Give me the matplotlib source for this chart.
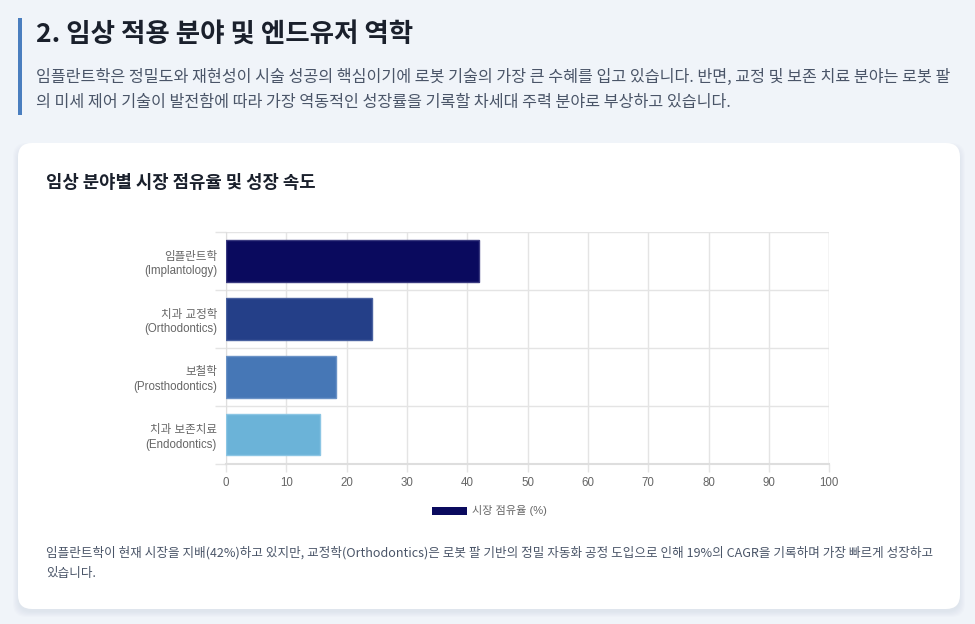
import numpy as np
import matplotlib.pyplot as plt
from matplotlib.patches import FancyBboxPatch, Rectangle

plt.rcParams['font.family'] = ['Noto Sans CJK KR', 'DejaVu Sans']
chart_font = ['Liberation Sans', 'Noto Sans CJK KR']

# data
fields = ['임플란트학\n(Implantology)', '치과 교정학\n(Orthodontics)',
          '보철학\n(Prosthodontics)', '치과 보존치료\n(Endodontics)']
share = [42, 24.2, 18.3, 15.5]
bar_colors = ['#0a0a5e', '#243f88', '#4677b6', '#6bb3d8']
edge_colors = ['#3a3a80', '#4a62a0', '#6a92c6', '#8cc6e4']
x_ticks = [0, 10, 20, 30, 40, 50, 60, 70, 80, 90, 100]
legend_label = '시장 점유율 (%)'

title = '2. 임상 적용 분야 및 엔드유저 역학'
intro = ['임플란트학은 정밀도와 재현성이 시술 성공의 핵심이기에 로봇 기술의 가장 큰 수혜를 입고 있습니다. 반면, 교정 및 보존 치료 분야는 로봇 팔',
         '의 미세 제어 기술이 발전함에 따라 가장 역동적인 성장률을 기록할 차세대 주력 분야로 부상하고 있습니다.']
card_title = '임상 분야별 시장 점유율 및 성장 속도'
note = ['임플란트학이 현재 시장을 지배(42%)하고 있지만, 교정학(Orthodontics)은 로봇 팔 기반의 정밀 자동화 공정 도입으로 인해 19%의 CAGR을 기록하며 가장 빠르게 성장하고',
        '있습니다.']

W, H = 975, 624
fig = plt.figure(figsize=(W / 100, H / 100), dpi=100)
fig.patch.set_facecolor('#f0f4f9')

# page layer in pixel coords
bg = fig.add_axes([0, 0, 1, 1])
bg.set_xlim(0, W)
bg.set_ylim(H, 0)
bg.axis('off')

bg.add_patch(Rectangle((18, 18), 3.5, 97, color='#4a7ebf', lw=0))
bg.text(36, 34, title, fontsize=19.1, fontweight='bold', color='#1a202c', va='center')
bg.text(36, 77, intro[0], fontsize=11.65, color='#4a5568', va='center')
bg.text(36, 103, intro[1], fontsize=11.65, color='#4a5568', va='center')

# card with soft shadow
for i in range(6):
    bg.add_patch(FancyBboxPatch((18 - i, 145 - i + 3), 942 + 2 * i, 464 + 2 * i,
                                boxstyle='round,pad=0,rounding_size=14',
                                fc='#aab4c4', ec='none', alpha=0.035))
bg.add_patch(FancyBboxPatch((18, 143), 942, 466, boxstyle='round,pad=0,rounding_size=14',
                            fc='white', ec='none'))
bg.text(46, 183, card_title, fontsize=12.8, fontweight='bold', color='#1a202c', va='center')
bg.text(46, 553, note[0], fontsize=9.07, color='#4a5568', va='center')
bg.text(46, 573, note[1], fontsize=9.07, color='#4a5568', va='center')

# chart
ax = fig.add_axes([226 / W, 1 - 463.5 / H, (829.3 - 226) / W, (463.5 - 232.3) / H])
y = np.arange(len(fields))
bars = ax.barh(y, share, height=0.72, color=bar_colors, edgecolor=edge_colors,
               linewidth=1, label=legend_label, zorder=3)
ax.set_xlim(0, 100)
ax.set_ylim(len(fields) - 0.5, -0.5)
ax.set_xticks(x_ticks)
ax.set_xticklabels([str(v) for v in x_ticks], family=chart_font)
ax.set_yticks(y)
ax.set_yticklabels(fields, ha='right', linespacing=1.3, family=chart_font)
ax.set_yticks(np.arange(len(fields) + 1) - 0.5, minor=True)
ax.tick_params(axis='y', which='major', length=0, pad=6.5, labelsize=8.3, labelcolor='#666666')
ax.tick_params(axis='y', which='minor', length=8, color='#e4e4e4', width=1)
ax.tick_params(axis='x', length=6, color='#e4e4e4', width=1, pad=4, labelsize=8.3,
               labelcolor='#666666')
ax.grid(axis='x', color='#e4e4e4', lw=1, zorder=0)
ax.grid(axis='y', which='minor', color='#e4e4e4', lw=1, zorder=0)
for s in ['top', 'right']:
    ax.spines[s].set_visible(False)
ax.spines['left'].set_color('#dedede')
ax.spines['bottom'].set_color('#dedede')
ax.spines['bottom'].set_linewidth(1.5)
ax.set_facecolor('white')
ax.axvline(100, color='#e4e4e4', lw=1, zorder=0)

ax_h = (463.5 - 232.3) / H
leg = ax.legend(handles=[bars[0]], labels=[legend_label], loc='center',
                bbox_to_anchor=((489 - 226) / (829.3 - 226), ((463.5 - 511) / H) / ax_h),
                frameon=False, handlelength=3.2, handleheight=0.75,
                handletextpad=0.4, labelcolor='#666666',
                prop={'family': chart_font, 'size': 8})
for h in leg.legend_handles:
    h.set_edgecolor('none')

fig.savefig('out.png', dpi=100, facecolor=fig.get_facecolor())
